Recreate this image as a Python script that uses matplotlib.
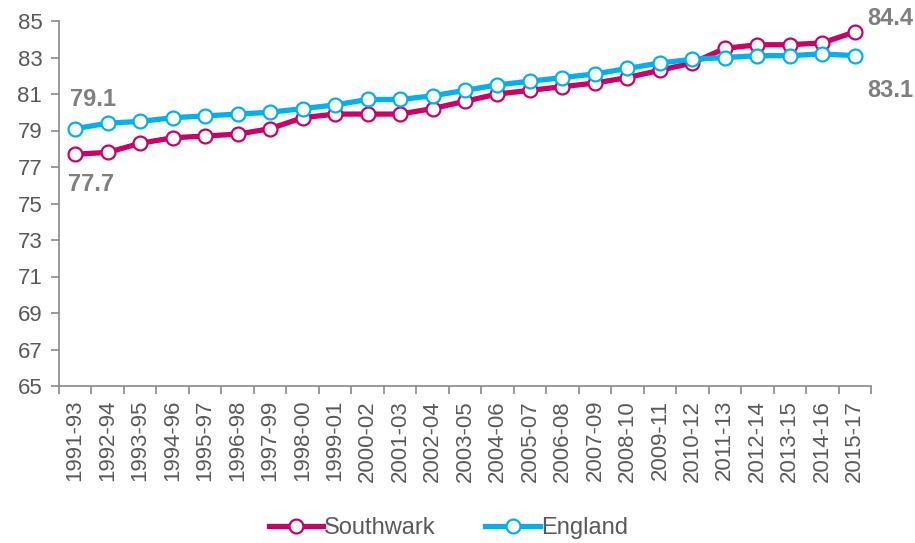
import matplotlib
matplotlib.use("Agg")
import matplotlib.pyplot as plt

periods = ["1991-93", "1992-94", "1993-95", "1994-96", "1995-97", "1996-98", "1997-99",
           "1998-00", "1999-01", "2000-02", "2001-03", "2002-04", "2003-05", "2004-06",
           "2005-07", "2006-08", "2007-09", "2008-10", "2009-11", "2010-12", "2011-13",
           "2012-14", "2013-15", "2014-16", "2015-17"]
southwark = [77.7, 77.8, 78.3, 78.6, 78.7, 78.8, 79.1, 79.7, 79.9, 79.9, 79.9, 80.2, 80.6,
             81.0, 81.2, 81.4, 81.6, 81.9, 82.3, 82.7, 83.5, 83.7, 83.7, 83.8, 84.4]
england = [79.1, 79.4, 79.5, 79.7, 79.8, 79.9, 80.0, 80.2, 80.4, 80.7, 80.7, 80.9, 81.2,
           81.5, 81.7, 81.9, 82.1, 82.4, 82.7, 82.9, 83.0, 83.1, 83.1, 83.2, 83.1]
yticks = list(range(65, 86, 2))

plt.rcParams['font.family'] = ['Liberation Sans', 'DejaVu Sans']
grey = '#595959'
lab = '#7f7f7f'
pink = '#CC0066'
blue = '#00B0F0'

fig = plt.figure(figsize=(9.15, 5.43), dpi=100)
ax = fig.add_axes([59/915, 157/543, (871-59)/915, (386-21)/543])

x = list(range(len(periods)))
ax.plot(x, southwark, color=pink, lw=3.8, marker='o', ms=10, mfc='white', mec=pink,
        mew=1.6, label='Southwark', zorder=3)
ax.plot(x, england, color=blue, lw=3.8, marker='o', ms=10, mfc='white', mec=blue,
        mew=1.6, label='England', zorder=4)

ax.set_xlim(-0.5, len(periods) - 0.5)
ax.set_ylim(65, 85)
ax.set_yticks(yticks)
ax.set_yticklabels([str(v) for v in yticks], fontsize=16, color=grey)
ax.set_xticks([i - 0.5 for i in range(len(periods) + 1)], minor=False)
ax.set_xticklabels([])
ax.set_xticks(x, minor=True)
ax.set_xticklabels(periods, minor=True, rotation=90, fontsize=16, color=grey)
ax.tick_params(axis='x', which='minor', length=0, pad=10)
ax.tick_params(axis='x', which='major', length=6, color='#898989', width=1.2, direction='out')
ax.tick_params(axis='y', length=6, color='#898989', width=1.2, direction='out', pad=6)

for s in ['top', 'right']:
    ax.spines[s].set_visible(False)
for s in ['left', 'bottom']:
    ax.spines[s].set_color('#898989')
    ax.spines[s].set_linewidth(1.2)

ax.annotate(f"{england[0]}", xy=(x[0], england[0]), xytext=(-4, 21), textcoords='offset points',
            fontsize=17, fontweight='bold', color=lab, ha='left', va='center')
ax.annotate(f"{southwark[0]}", xy=(x[0], southwark[0]), xytext=(-5, -22), textcoords='offset points',
            fontsize=17, fontweight='bold', color=lab, ha='left', va='center')
ax.annotate(f"{southwark[-1]}", xy=(x[-1], southwark[-1]), xytext=(9, 10), textcoords='offset points',
            fontsize=17, fontweight='bold', color=lab, ha='left', va='center')
ax.annotate(f"{england[-1]}", xy=(x[-1], england[-1]), xytext=(9, -25), textcoords='offset points',
            fontsize=17, fontweight='bold', color=lab, ha='left', va='center')

leg = fig.legend(loc='center', bbox_to_anchor=(0.49, 0.028), ncol=2, frameon=False,
                 fontsize=17, handlelength=2.3, handletextpad=0.05, columnspacing=2.1,
                 borderpad=0.0)
for t in leg.get_texts():
    t.set_color(grey)

fig.savefig('out.png', dpi=100)
